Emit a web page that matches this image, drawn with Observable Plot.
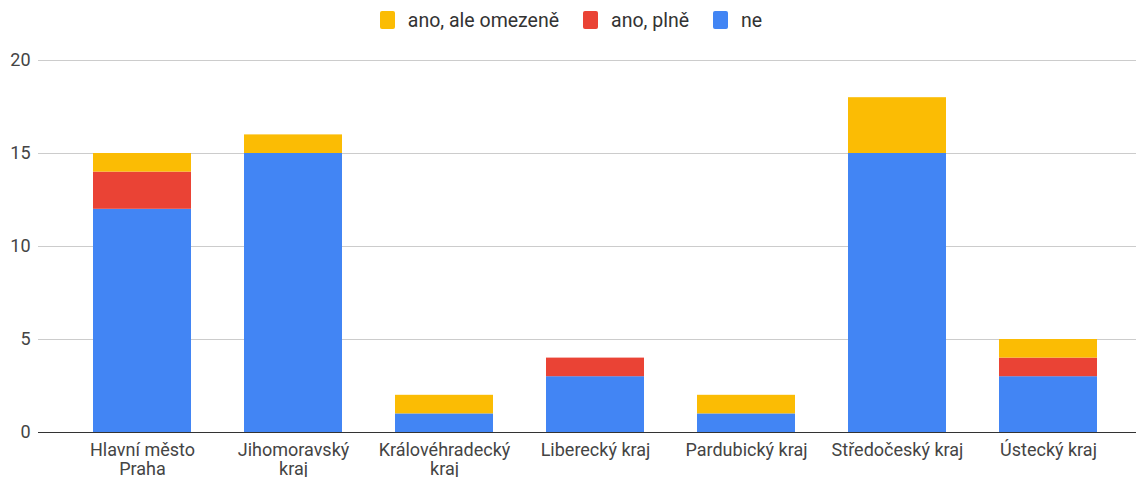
<!DOCTYPE html>
<html><head><meta charset="utf-8">
<script src="https://cdn.jsdelivr.net/npm/d3@7"></script>
<script src="https://cdn.jsdelivr.net/npm/@observablehq/plot@0.6"></script>
<style>
body{margin:0;background:#fff;font-family:Roboto,Arial,sans-serif;}
#legend{height:40px;display:flex;justify-content:center;align-items:center;font-size:19.5px;color:#333;padding-left:6px;box-sizing:border-box;}
.item{display:flex;align-items:center;margin:0 12px;}
.sw{width:15px;height:18px;border-radius:2px;margin-right:13px;}
svg{display:block;}
</style></head><body>
<div id="legend"></div>
<div id="chart"></div>
<script>
const categories = ["Hlavní město Praha","Jihomoravský kraj","Královéhradecký kraj","Liberecký kraj","Pardubický kraj","Středočeský kraj","Ústecký kraj"];
const tickLabels = ["Hlavní město\nPraha","Jihomoravský\nkraj","Královéhradecký\nkraj","Liberecký kraj","Pardubický kraj","Středočeský kraj","Ústecký kraj"];
const series = ["ne","ano, plně","ano, ale omezeně"];
const legendOrder = ["ano, ale omezeně","ano, plně","ne"];
const colors = ["#4285F4","#EA4335","#FBBC04"];
const ne = [12,15,1,3,1,15,3];
const plne = [2,0,0,1,0,0,1];
const omezene = [1,1,1,0,1,3,1];
const yTicks = [0,5,10,15,20];

const values = [ne, plne, omezene];
const data = [];
series.forEach((s,i)=>categories.forEach((c,j)=>data.push({kraj:c, serie:s, value:values[i][j], order:i})));

const leg = document.getElementById("legend");
legendOrder.forEach(s=>{
  const d=document.createElement("div");d.className="item";
  d.innerHTML=`<span class="sw" style="background:${colors[series.indexOf(s)]}"></span><span>${s}</span>`;
  leg.appendChild(d);
});

const chart = Plot.plot({
  width:1136, height:437,
  marginLeft:38, marginRight:0, marginTop:20, marginBottom:45,
  style:{fontFamily:"Roboto, Arial, sans-serif", fontSize:"18px", color:"#444"},
  x:{domain:categories, paddingInner:0.35, paddingOuter:0.175, insetLeft:28, insetRight:12, label:null},
  y:{domain:[0,20], label:null},
  color:{domain:series, range:colors},
  marks:[
    Plot.ruleY(yTicks.filter(d=>d>0), {stroke:"#ccc", strokeWidth:1}),
    Plot.barY(data, Plot.stackY({x:"kraj", y:"value", fill:"serie", order:"order"})),
    Plot.ruleY([0], {stroke:"#333", strokeWidth:1}),
    Plot.axisY({ticks:yTicks, tickSize:0, tickPadding:8, label:null, fill:"#444", fontSize:18}),
    Plot.axisX({tickSize:0, tickPadding:9, label:null, tickFormat:(d)=>tickLabels[categories.indexOf(d)], lineHeight:1.1, fill:"#444", fontSize:18})
  ]
});
document.getElementById("chart").appendChild(chart);
</script>
</body></html>
